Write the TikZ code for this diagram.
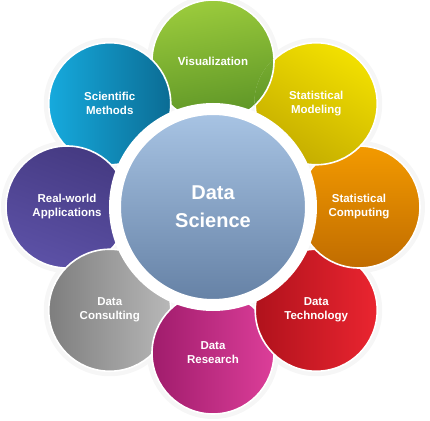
\documentclass[tikz,border=0pt]{standalone}
\usepackage{fontspec}
\setmainfont{Liberation Sans}
\usepackage{xcolor}
\usetikzlibrary{positioning}
\definecolor{vistop}{HTML}{9BCB3C}
\definecolor{visbot}{HTML}{5C9426}
\definecolor{modtop}{HTML}{F2E000}
\definecolor{modbot}{HTML}{C4AC00}
\definecolor{comptop}{HTML}{F39A00}
\definecolor{compbot}{HTML}{C06C00}
\definecolor{techlit}{HTML}{EA2530}
\definecolor{techdrk}{HTML}{B0121C}
\definecolor{reslit}{HTML}{DC3E99}
\definecolor{resdrk}{HTML}{A01C6C}
\definecolor{conslit}{HTML}{B8B8B8}
\definecolor{consdrk}{HTML}{7E7E7E}
\definecolor{realtop}{HTML}{453A82}
\definecolor{realbot}{HTML}{5C51A6}
\definecolor{scilit}{HTML}{16AADD}
\definecolor{scidrk}{HTML}{0B6C94}
\definecolor{hubtop}{HTML}{A9C5E5}
\definecolor{hubbot}{HTML}{6480A4}
\definecolor{halogray}{HTML}{F6F6F6}

\begin{document}
\begin{tikzpicture}[
        petal/.style={
          circle,
          minimum size=122bp,
          inner sep=0pt,
          draw=white,
          line width=1.6bp,
          align=center,
          text=white,
          font=\bfseries\fontsize{11.5bp}{14bp}\selectfont
        },
        hub/.style={
          circle,
          minimum size=196bp,
          inner sep=0pt,
          draw=white,
          line width=12bp,
          align=center,
          text=white,
          top color=hubtop,
          bottom color=hubbot,
          font=\bfseries\fontsize{20bp}{28bp}\selectfont
        },
        halo/.style={fill=halogray}
      ]
      \useasboundingbox (-213bp,-214bp) rectangle (217bp,207bp);

      % places of the petals and their soft halo
      \foreach \name/\ang in {vis/90, mod/45, comp/0, tech/-45, res/-90, cons/-135, real/180, sci/135} {
        \coordinate (\name-c) at (\ang:146bp);
        \fill[halo] (\name-c) circle (66bp);
      }

      \node[petal, top color=vistop, bottom color=visbot, shading angle=10] (vis) at (vis-c) {Visualization};
      \node[petal, left color=scilit, right color=scidrk] (sci) at (sci-c) {Scientific\\Methods};
      \node[petal, top color=realtop, bottom color=realbot, shading angle=-20] (real) at (real-c) {Real-world\\Applications};
      \node[petal, left color=consdrk, right color=conslit] (cons) at (cons-c) {Data\\Consulting};
      \node[petal, left color=resdrk, right color=reslit] (res) at (res-c) {Data\\Research};
      \node[petal, left color=techdrk, right color=techlit] (tech) at (tech-c) {Data\\Technology};
      \node[petal, top color=comptop, bottom color=compbot] (comp) at (comp-c) {Statistical\\Computing};
      \node[petal, top color=modtop, bottom color=modbot, shading angle=-30] (mod) at (mod-c) {Statistical\\Modeling};

      % green petal lies over the yellow one
      \begin{scope}
        \clip (mod-c) circle (62bp);
        \path[draw=white, line width=1.6bp, top color=vistop, bottom color=visbot, shading angle=10] (vis-c) circle (61bp);
      \end{scope}

      \node[hub] (ds) at (0,0) {Data\\Science};

      \end{tikzpicture}
\end{document}
